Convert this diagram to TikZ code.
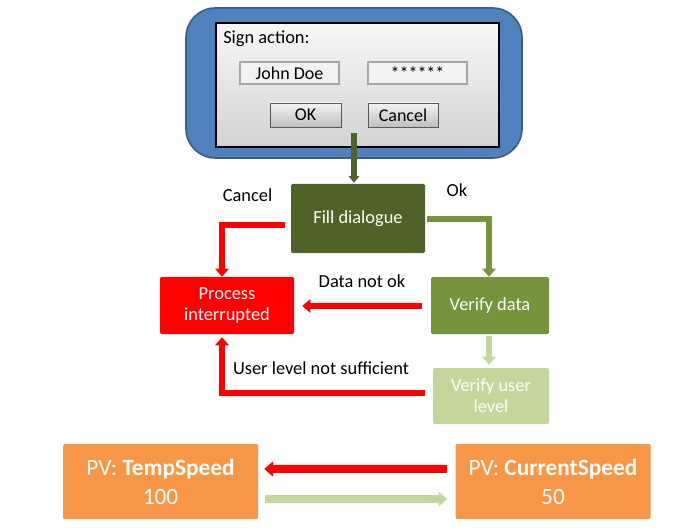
\documentclass[tikz,border=0pt]{standalone}
\usepackage{fontspec}
\setmainfont{Carlito}
\usetikzlibrary{arrows.meta,calc,shadows}
\definecolor{bluefill}{HTML}{4F81BD}
\definecolor{blueline}{HTML}{385D8A}
\definecolor{dkgreen}{HTML}{4F6228}
\definecolor{mdgreen}{HTML}{77933C}
\definecolor{ltgreen}{HTML}{C3D69B}
\definecolor{orng}{HTML}{F79646}
\definecolor{inbox}{HTML}{F2F2F2}
\definecolor{inboxline}{HTML}{A6A6A6}
\begin{document}
\begin{tikzpicture}[x=0.75pt,y=-0.75pt,
  txt/.style={font=\fontsize{13.8}{15.75}\selectfont},
  flowbox/.style={draw=none,inner sep=0pt,align=center,text=white,
    font=\fontsize{13.8}{15.75}\selectfont,rounded corners=1pt},
  pvbox/.style={flowbox,fill=orng,minimum width=146.25pt,minimum height=56.25pt,
    font=\fontsize{17.5}{21.75}\selectfont},
  field/.style={draw=inboxline,line width=1.5pt,fill=inbox,minimum width=74.25pt,
    minimum height=16.5pt,inner sep=0pt,font=\fontsize{13.5}{15}\selectfont},
  btn/.style={draw=gray!70!black,line width=0.6pt,top color=gray!10,bottom color=gray!50,
    minimum height=18pt,inner sep=0pt,font=\fontsize{13.5}{15}\selectfont,
    drop shadow={shadow xshift=0.8pt,shadow yshift=-0.8pt,opacity=0.5}},
  conn/.style={line width=5pt,line join=miter,-{Triangle[width=10pt,length=6pt]}},
  wideconn/.style={line width=6pt,line join=miter,-{Triangle[width=11pt,length=6.5pt]}},
]
\useasboundingbox (0,0) rectangle (696,531);

% top dialog
\node[draw=blueline,line width=1.2pt,fill=bluefill,rounded corners=22pt,
  minimum width=252pt,minimum height=112.5pt,inner sep=0pt] (outer) at (354,83) {};
\node[draw=black,line width=1.2pt,top color=gray!6,bottom color=gray!35,
  minimum width=212.25pt,minimum height=93pt,inner sep=0pt] (dialog) at (357.5,85) {};
\node[txt,anchor=base west,inner sep=0pt] (sign) at (223,44) {Sign action:};
\node[field] (john) at (289.5,73) {John Doe};
\node[field] (pw) at (417.5,73) {******};
\node[btn,minimum width=53.25pt] (okbtn) at (305.5,115) {OK};
\node[btn,minimum width=52.5pt] (cancelbtn) at (403,115) {Cancel};

% flow boxes
\node[flowbox,fill=dkgreen,minimum width=100.5pt,minimum height=51.75pt] (fill) at (358,218.5) {Fill dialogue};
\node[flowbox,fill=red,minimum width=100.5pt,minimum height=42.75pt] (proc) at (227,305.5) {Process\\interrupted};
\node[flowbox,fill=mdgreen,minimum width=88.5pt,minimum height=42.75pt] (vdata) at (490,305.5) {Verify data};
\node[flowbox,fill=ltgreen,minimum width=87pt,minimum height=42pt] (vuser) at (491,396) {Verify user\\level};

% connectors
\draw[conn,dkgreen,line width=3.8pt,-{Triangle[width=8pt,length=5pt]}]
  ($(dialog.south)+(-3.5,-15)$) -- ($(fill.north)+(-4,-1)$);
\draw[conn,red] ($(fill.west)+(-6,6.5)$) -| ($(proc.north)+(-5,0)$);
\draw[conn,mdgreen] ($(fill.east)+(2,0.5)$) -| ($(vdata.north)+(-1,0)$);
\draw[conn,red] ($(vdata.west)+(-9,0.5)$) -- ($(proc.east)+(8,0.5)$);
\draw[conn,ltgreen] ($(vdata.south)+(-1,2)$) -- ($(vuser.north)+(-2,-3)$);
\draw[conn,red] ($(vuser.west)+(-8,-3)$) -| ($(proc.south)+(-5,3)$);

% labels
\node[txt,anchor=base,inner sep=0pt] (lcancel) at (247.5,202) {Cancel};
\node[txt,anchor=base,inner sep=0pt] (lok) at (457,197) {Ok};
\node[txt,anchor=base,inner sep=0pt] (ldata) at (362,287) {Data not ok};
\node[txt,anchor=base,inner sep=0pt] (luser) at (321,374) {User level not sufficient};

% bottom
\node[pvbox] (temp) at (160.5,481.5) {PV: \textbf{TempSpeed}\\100};
\node[pvbox] (cur) at (553,481.5) {PV: \textbf{CurrentSpeed}\\50};
\draw[wideconn,red] ($(cur.west)+(-8,-12.5)$) -- ($(temp.east)+(6,-12.5)$);
\draw[wideconn,ltgreen] ($(temp.east)+(7,17.5)$) -- ($(cur.west)+(-8,17.5)$);
\end{tikzpicture}
\end{document}
